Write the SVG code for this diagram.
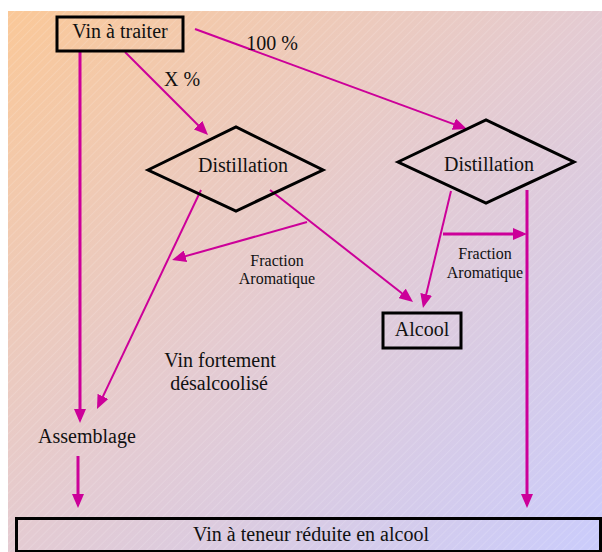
<svg xmlns="http://www.w3.org/2000/svg" width="602" height="552" viewBox="0 0 602 552">
  <style>
    .node { fill: none; stroke: #000; stroke-width: 3; }
    .t { font-family: "Liberation Serif", "Times New Roman", serif; font-size: 20px; fill: #111; text-anchor: middle; }
    .s { font-size: 16px; }
    .c { stroke: #cc0099; stroke-width: 2; fill: none; marker-end: url(#ah); }
    .w { stroke-width: 3; }
  </style>
  <defs>
    <linearGradient id="bg" x1="0" y1="0" x2="1" y2="1">
      <stop offset="0" stop-color="#fac898"/>
      <stop offset="0.5" stop-color="#e4cbd2"/>
      <stop offset="1" stop-color="#caccfc"/>
    </linearGradient>
    <pattern id="hatch" width="6" height="6" patternUnits="userSpaceOnUse" patternTransform="rotate(45)">
      <line x1="0" y1="0" x2="0" y2="6" stroke="#ffffff" stroke-opacity="0.35" stroke-width="0.8"/>
    </pattern>
    <marker id="ah" markerUnits="userSpaceOnUse" markerWidth="14" markerHeight="12" refX="10" refY="6" orient="auto">
      <path d="M0,0 L14,6 L0,12 z" fill="#cc0099"/>
    </marker>
  </defs>

  <rect x="0" y="0" width="602" height="552" fill="#ffffff"/>
  <rect x="8" y="11" width="594" height="541" fill="url(#bg)"/>
  <rect x="8" y="11" width="594" height="541" fill="url(#hatch)"/>

  <g id="connectors">
    <line class="c w" x1="80" y1="51" x2="80" y2="419"/>
    <line class="c" x1="125" y1="52" x2="205.2" y2="132.2"/>
    <line class="c" x1="195" y1="29" x2="463.2" y2="127.6"/>
    <line class="c" x1="201" y1="190" x2="98.7" y2="405.4"/>
    <line class="c" x1="307" y1="222" x2="175.9" y2="258.9"/>
    <line class="c" x1="270" y1="190" x2="409.9" y2="299.5"/>
    <line class="c" x1="451" y1="191" x2="423.9" y2="304.1"/>
    <line class="c w" x1="527" y1="190" x2="527" y2="504"/>
    <line class="c w" x1="443" y1="234" x2="523" y2="234"/>
    <line class="c w" x1="78" y1="456" x2="78" y2="504"/>
    <text class="t" x="182" y="86" font-size="19">X %</text>
    <text class="t" x="272" y="50" font-size="19">100 %</text>
    <text class="t s" x="277" y="266">Fraction</text>
    <text class="t s" x="277" y="284">Aromatique</text>
    <text class="t s" x="485" y="259">Fraction</text>
    <text class="t s" x="485" y="278">Aromatique</text>
  </g>

  <g id="vin-a-traiter">
    <rect class="node" x="57" y="17" width="126" height="34"/>
    <text class="t" x="120" y="38">Vin à traiter</text>
  </g>
  <g id="distillation-1">
    <polygon class="node" points="148,170 236,127 323,170 236,211"/>
    <text class="t" x="243" y="172">Distillation</text>
  </g>
  <g id="distillation-2">
    <polygon class="node" points="398,162 486,120 574,162 486,203"/>
    <text class="t" x="489" y="171">Distillation</text>
  </g>
  <g id="alcool">
    <rect class="node" x="383" y="313" width="78" height="35"/>
    <text class="t" x="422" y="336">Alcool</text>
  </g>
  <g id="vin-fortement">
    <text class="t" x="220" y="367">Vin fortement</text>
    <text class="t" x="219" y="390">désalcoolisé</text>
  </g>
  <g id="assemblage">
    <text class="t" x="87" y="443">Assemblage</text>
  </g>
  <g id="vin-teneur-reduite">
    <rect class="node" x="16.5" y="518.5" width="584" height="33"/>
    <text class="t" x="311" y="541">Vin à teneur réduite en alcool</text>
  </g>
</svg>
